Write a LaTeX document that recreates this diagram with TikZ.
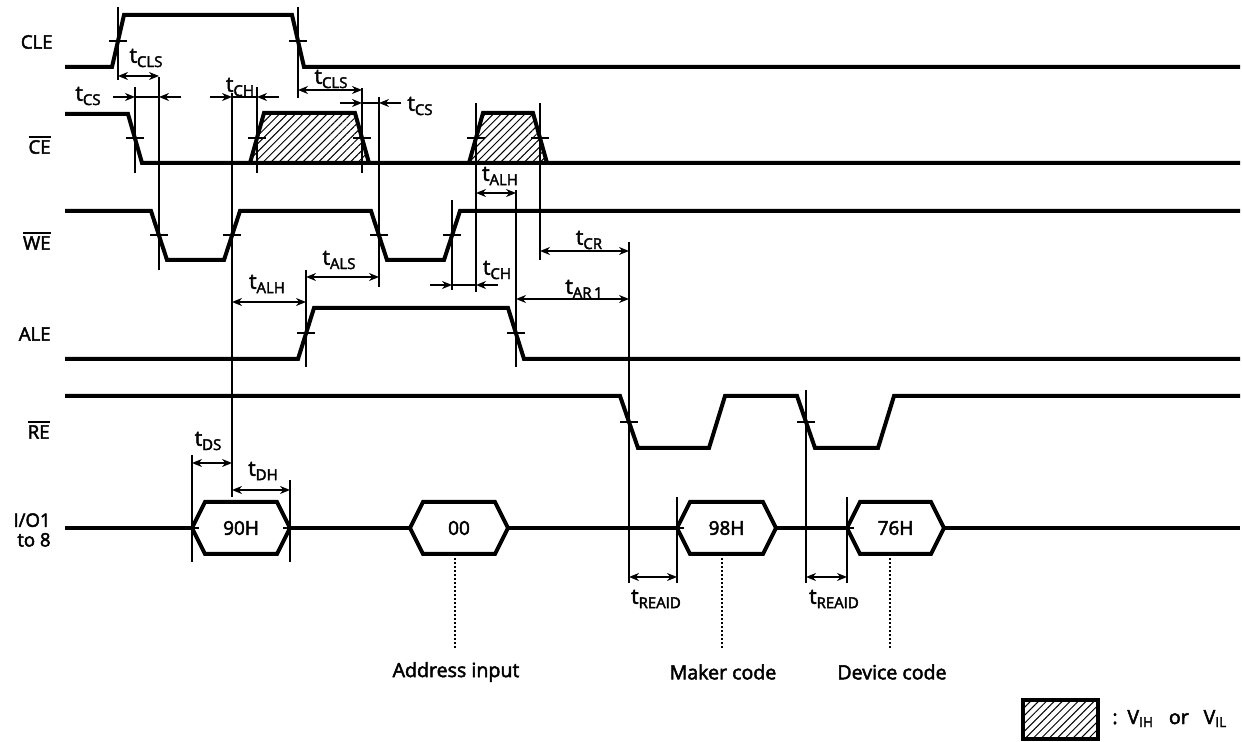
\documentclass[tikz,border=0pt]{standalone}
\usepackage{fontspec}
\setmainfont{Open Sans}[FakeBold=2.5]
\usetikzlibrary{arrows.meta,patterns.meta}

\newcommand{\tsub}[1]{t\raisebox{-2.2pt}{\fontsize{7.5}{8}\selectfont #1}}
\newcommand{\barsig}[1]{\leavevmode\vbox{\hrule height 0.7pt\kern1.3pt\hbox{#1}}}
% arrows pointing in on a gap between two edges
\newcommand{\pinch}[3]{%
  \draw[inarrow] ({#2-22},#1) -- (#2,#1);
  \draw[dimbar] (#2,#1) -- (#3,#1);
  \draw[inarrow] ({#3+22},#1) -- (#3,#1);}

\begin{document}
\begin{tikzpicture}[
        x=0.5pt, y=-0.5pt,
        signal/.style={line width=2pt, line join=miter},
        refline/.style={line width=0.7pt},
        tickmark/.style={line width=0.7pt},
        dimbar/.style={line width=1pt},
        dimline/.style={dimbar, {Stealth[length=5pt,width=4pt]}-{Stealth[length=5pt,width=4pt]}},
        inarrow/.style={dimbar, -{Stealth[length=5pt,width=4pt]}},
        hatched/.style={pattern={Lines[angle=45,distance=2.8pt,line width=0.5pt]}},
        leader/.style={line width=1pt, dash pattern=on 1pt off 1pt},
        signame/.style={anchor=east, inner sep=0pt, font=\fontsize{9.3}{10}\selectfont},
        tlabel/.style={inner sep=0pt, font=\fontsize{10.5}{11}\selectfont},
        hexlabel/.style={inner sep=0pt, font=\fontsize{9.5}{10}\selectfont},
        note/.style={inner sep=0pt, font=\fontsize{9.8}{11}\selectfont}
    ]
    \useasboundingbox (0,0) rectangle (1242,742);

    % signal names
    \node[signame] (cle) at (53,42) {CLE};
    \node[signame] (ce) at (51,145) {\barsig{CE}};
    \node[signame] (we) at (51,241) {\barsig{WE}};
    \node[signame] (ale) at (51,334) {ALE};
    \node[signame] (re) at (50,430) {\barsig{RE}};
    \node[signame] (io) at (51,530) {\shortstack[r]{I/O1\\to 8}};

    % waveforms
    \draw[signal] (65,67) -- (112,67) -- (124,15) -- (292,15) -- (304,67) -- (1240,67);
    \draw[signal] (65,114) -- (128,114) -- (142,163) -- (1240,163);
    \draw[signal, hatched] (250,163) -- (264,113) -- (355,113) -- (369,163);
    \draw[signal, hatched] (469,163) -- (483,113) -- (533,113) -- (547,163);
    \draw[signal] (65,211) -- (151,211) -- (167,260) -- (224,260) -- (240,211) -- (371,211)
        -- (387,260) -- (444,260) -- (460,211) -- (1240,211);
    \draw[signal] (65,359) -- (298,359) -- (314,308) -- (508,308) -- (524,359) -- (1240,359);
    \draw[signal] (65,396) -- (620,396) -- (638,448) -- (709,448) -- (725,396) -- (797,396)
        -- (815,448) -- (878,448) -- (894,396) -- (1240,396);
    \draw[signal] (65,528) -- (1240,528);
    \foreach \l/\r/\txt/\name in {192/290/90H/d90, 410/508/00/d00, 677/776/98H/d98, 847/944/76H/d76} {
        \draw[signal, fill=white] (\l,528) -- (\l+13,502) -- (\r-13,502) -- (\r,528)
            -- (\r-13,554) -- (\l+13,554) -- cycle;
        \node[hexlabel] (\name) at ({(\l+\r)/2},528) {\txt};
    }
    \foreach \x/\d in {192/1, 290/-1, 677/1, 847/1}
        \draw[tickmark] (\x,528) -- (\x+7*\d,528);

    % crossing marks
    \foreach \x/\y in {118/41, 298/41, 135/138, 257/138, 362/138, 476/138, 540/138,
        159/235, 232/235, 379/235, 452/235, 306/333, 516/333, 629/422, 806/422}
        \draw[tickmark] (\x-9,\y) -- (\x+9,\y);

    % reference lines
    \foreach \x/\a/\b in {118/7/80, 135/87/173, 159/77/270, 232/93/497, 257/87/173,
        298/7/98, 362/88/173, 379/97/287, 452/200/290, 476/103/292, 540/103/260,
        516/190/367, 306/270/367, 629/242/583, 806/390/583, 192/455/562, 290/480/562,
        677/497/583, 847/497/583}
        \draw[refline] (\x,\a) -- (\x,\b);

    % timing
    \draw[dimline] (118,76) -- (159,76);
    \node[tlabel] (tcls1) at (146,58) {\tsub{CLS}};
    \pinch{97}{135}{159}
    \node[tlabel] (tcs1) at (88,96) {\tsub{CS}};
    \pinch{97}{232}{257}
    \node[tlabel] (tch1) at (240,87) {\tsub{CH}};
    \draw[dimline] (298,90) -- (362,90);
    \node[tlabel] (tcls2) at (331,79) {\tsub{CLS}};
    \pinch{103}{362}{379}
    \node[tlabel] (tcs2) at (420,106) {\tsub{CS}};
    \draw[dimline] (476,193) -- (516,193);
    \node[tlabel] (talh2) at (500,176) {\tsub{ALH}};
    \pinch{285}{452}{476}
    \node[tlabel] (tch2) at (497,270) {\tsub{CH}};
    \draw[dimline] (540,251) -- (629,251);
    \node[tlabel] (tcr) at (589,240) {\tsub{CR}};
    \draw[dimline] (516,299) -- (629,299);
    \node[tlabel] (tar) at (584,289) {\tsub{AR\,1}};
    \draw[dimline] (232,302) -- (306,302);
    \node[tlabel] (talh1) at (267,284) {\tsub{ALH}};
    \draw[dimline] (306,277) -- (379,277);
    \node[tlabel] (tals) at (339,260) {\tsub{ALS}};
    \draw[dimline] (192,463) -- (232,463);
    \node[tlabel] (tds) at (208,441) {\tsub{DS}};
    \draw[dimline] (232,490) -- (290,490);
    \node[tlabel] (tdh) at (263,471) {\tsub{DH}};
    \draw[dimline] (629,577) -- (677,577);
    \node[tlabel] (trid1) at (656,599) {\tsub{REAID}};
    \draw[dimline] (806,577) -- (847,577);
    \node[tlabel] (trid2) at (834,599) {\tsub{REAID}};

    % notes
    \draw[leader] (455,554) -- (455,650);
    \draw[leader] (722,554) -- (722,650);
    \draw[leader] (890,554) -- (890,650);
    \node[note] (addr) at (456,672) {Address input};
    \node[note] (maker) at (723,672) {Maker code};
    \node[note] (device) at (892,672) {Device code};

    % legend
    \draw[line width=1.6pt, hatched] (1023,700) rectangle (1098,739);
    \node[note, anchor=base west] (key) at (1112,724)
        {:\enspace V\textsubscript{IH}\enspace\ or\enspace\ V\textsubscript{IL}};
\end{tikzpicture}
\end{document}
